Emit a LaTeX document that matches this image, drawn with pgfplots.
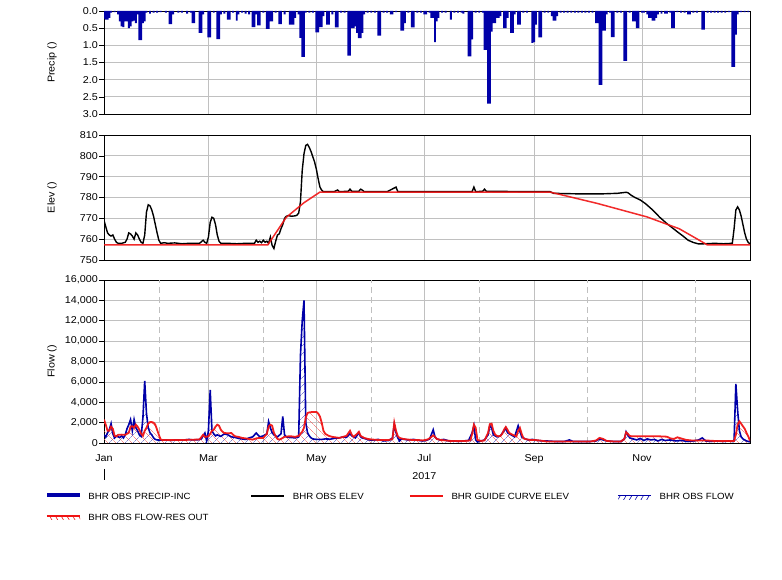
\documentclass[border=0pt]{standalone}
\usepackage{fontspec}
\setmainfont{Liberation Sans}[FakeStretch=1.08]
\usepackage{pgfplots}
\pgfplotsset{compat=1.18}
\usepackage{pgfplotstable}
\usetikzlibrary{patterns.meta}
\definecolor{obsblue}{RGB}{0,0,168}
\definecolor{gridgray}{RGB}{192,192,192}
\definecolor{obsred}{RGB}{240,20,20}

\pgfplotstableread{
x y
0 0.22
1 0.25
2 0.25
3 0.2
4 0.05
6 0.03
8 0.1
9 0.3
10 0.45
11 0.47
12 0.3
13 0.3
14 0.5
15 0.45
16 0.3
17 0.28
18 0.35
19 0.1
20 0.85
21 0.85
22 0.35
23 0.3
24 0.05
26 0.08
28 0.05
30 0.05
32 0.03
35 0.05
37 0.38
38 0.38
39 0.1
42 0.05
44 0.05
47 0.08
49 0.05
50 0.35
51 0.35
54 0.64
55 0.64
56 0.1
59 0.77
60 0.77
62 0.05
64 0.82
65 0.82
66 0.1
68 0.08
70 0.25
71 0.25
73 0.05
75 0.28
76 0.1
78 0.05
80 0.08
82 0.1
84 0.47
85 0.47
86 0.1
87 0.42
88 0.42
90 0.05
92 0.52
93 0.52
94 0.3
95 0.3
97 0.05
99 0.38
100 0.38
102 0.1
105 0.4
106 0.4
107 0.4
108 0.2
110 0.1
111 0.78
112 1.34
113 1.34
114 0.05
116 0.05
118 0.05
120 0.62
121 0.62
122 0.47
123 0.47
124 0.15
126 0.4
127 0.4
129 0.1
131 0.48
132 0.48
134 0.05
136 0.05
138 1.3
139 1.3
140 0.5
141 0.5
142 0.45
143 0.64
144 0.79
145 0.79
146 0.64
147 0.1
149 0.05
151 0.05
153 0.05
155 0.72
156 0.72
158 0.05
160 0.05
162 0.1
163 0.1
165 0.03
168 0.57
169 0.57
170 0.35
172 0.05
174 0.48
175 0.48
177 0.05
179 0.05
181 0.1
182 0.1
184 0.05
185 0.2
186 0.2
187 0.91
188 0.3
189 0.2
191 0.05
193 0.05
196 0.25
198 0.05
200 0.05
202 0.05
203 0.08
206 1.32
207 1.32
208 0.83
210 0.05
212 0.05
214 0.05
215 1.13
216 1.13
217 2.7
218 2.7
219 0.6
220 0.35
221 0.35
222 0.2
223 0.2
224 0.15
226 0.5
227 0.5
228 0.2
230 0.64
231 0.64
232 0.1
234 0.4
235 0.4
237 0.05
239 0.05
242 0.93
243 0.91
244 0.4
246 0.77
247 0.77
249 0.05
251 0.05
253 0.15
254 0.28
255 0.28
256 0.15
258 0.05
260 0.05
262 0.05
264 0.05
266 0.05
268 0.05
270 0.05
272 0.05
274 0.05
276 0.05
278 0.35
279 0.35
280 2.15
281 2.15
282 0.57
283 0.57
284 0.1
286 0.05
287 0.76
288 0.76
290 0.05
292 0.05
294 1.45
295 1.45
297 0.05
299 0.3
300 0.3
301 0.5
302 0.5
304 0.05
305 0.05
307 0.1
308 0.2
309 0.2
310 0.28
311 0.28
312 0.2
313 0.1
315 0.08
317 0.08
318 0.08
320 0.05
321 0.5
322 0.5
324 0.03
326 0.05
328 0.05
330 0.1
331 0.1
333 0.05
335 0.05
338 0.54
339 0.54
341 0.05
343 0.05
345 0.05
347 0.05
349 0.05
351 0.05
353 0.03
355 1.63
356 1.63
357 0.69
358 0.1
360 0.03
362 0.03
364 0.03
}\precip

\pgfplotstableread{
x y
0 769
1 766
2 763
3 762
4 761.5
5 762
6 760
7 758.5
8 758
10 758
12 758.5
13 760
14 763
15 762.5
16 761.5
17 760
18 763
19 762
20 760
21 758.5
22 758
23 762
24 773
25 776.5
26 776
27 774
28 771
29 767
30 763
31 759.5
32 758
34 758.3
36 758
40 758.2
44 757.8
48 758
52 758
54 758
56 759.5
57 758.5
58 758
59 761
60 768
61 770.5
62 770
63 767
64 762
65 759
66 758
70 758
75 757.8
80 758
85 758
86 759.5
87 758.5
88 759
89 758.3
90 759.5
91 758.5
92 759
93 758
94 761
95 757
96 755.5
97 759
98 762
99 762.5
100 765
101 767
102 770
103 771
104 771.3
106 771
108 771.2
109 771.5
110 772.5
111 778
112 793
113 801
114 805
115 805.5
116 804
117 802
118 799.5
119 797
120 793.5
121 789
122 785
123 783.5
124 782.8
130 782.8
132 783.6
133 782.8
138 783
139 784
140 783
144 783
145 784
146 783.5
147 782.8
160 782.8
165 785
166 782.8
170 782.8
175 782.8
200 782.8
208 782.8
209 785
210 782.8
214 783
215 784
216 783
240 782.8
252 782.8
254 782
270 781.7
280 781.7
290 782
295 782.5
296 782.3
298 781
300 780
303 778.8
306 777
310 774
314 770.5
318 767.5
321 765.5
324 763.5
327 761.6
330 759.5
333 758.4
336 757.7
340 757.8
345 758
350 757.8
355 758
356 765
357 774
358 775.5
359 774
360 771
361 767
362 763
363 760
364 758.4
365 757.8
}\elev

\pgfplotstableread{
x y
0 757.2
92.5 757.2
103 770.5
113 777.5
122 782.6
252 782.6
278.5 777.2
306.7 770.7
325 765
332 761.6
341 757.2
365 757.2
}\guide

\pgfplotstableread{
x y
0 800
1 600
2 1000
3 1300
4 1900
5 900
6 500
7 700
8 600
9 550
10 700
11 500
12 800
13 1400
14 1800
15 2300
16 1200
17 2300
18 1500
19 1200
20 800
21 650
22 2500
23 6100
24 2900
25 1500
26 1000
27 800
28 500
29 350
30 300
32 280
35 300
38 250
40 300
45 280
48 350
50 300
53 320
55 400
56 700
57 980
58 200
59 1200
60 5200
61 1200
62 900
63 700
64 800
66 650
68 900
70 800
72 600
74 550
76 450
78 400
80 350
82 500
84 600
86 980
88 600
90 700
92 900
93 2100
94 1500
95 1000
96 800
98 600
100 900
101 2600
102 800
103 600
105 550
108 500
110 600
111 8600
112 12000
113 14000
114 2000
115 1000
116 700
117 500
118 400
120 350
123 350
125 400
128 380
130 450
133 500
135 600
137 550
139 900
140 700
142 500
144 1000
145 600
146 500
148 400
150 300
152 280
155 350
158 200
161 250
163 500
164 1800
165 1000
166 500
167 200
168 400
170 350
172 300
175 350
178 250
180 200
182 250
184 400
186 1300
187 600
188 400
190 300
192 350
195 200
198 200
200 150
203 200
206 250
208 1000
209 1700
210 300
211 100
213 200
215 300
217 800
218 1700
219 1500
220 800
222 600
224 700
226 1200
227 1500
228 1000
230 800
232 600
234 1700
235 1200
236 600
238 400
240 300
242 350
245 250
248 200
250 200
255 150
260 150
263 300
265 150
270 150
275 150
278 200
280 400
282 300
284 200
288 150
292 150
294 400
295 1100
296 800
297 500
299 400
301 300
303 450
305 250
307 400
309 300
311 350
313 200
315 350
317 250
320 300
323 200
326 250
330 150
333 200
336 300
338 500
340 200
343 150
346 200
350 150
353 200
355 150
356 300
357 5800
358 3200
359 1200
360 600
361 400
362 300
363 200
364 150
365 150
}\flowobs

\pgfplotstableread{
x y
0 2300
1 1800
2 1200
3 1200
4 1600
5 1400
6 700
7 650
8 800
10 820
12 800
14 1000
15 1600
16 1650
17 1500
18 1800
19 1600
20 1300
21 900
22 700
23 1200
24 1500
25 1900
26 2050
27 2050
28 2000
29 1800
30 1300
31 800
32 350
33 300
36 300
40 300
45 300
50 320
54 350
56 800
57 600
59 650
60 900
61 1200
62 1300
63 1600
64 1800
65 1700
66 1300
67 1100
68 980
70 950
72 980
73 800
74 660
76 600
78 500
80 450
82 400
84 330
86 450
88 500
90 500
92 900
93 1600
94 1800
95 1700
96 1000
97 650
98 400
99 330
100 400
102 600
104 650
106 650
108 600
110 700
112 1100
113 1500
114 2500
115 2950
116 3000
118 3050
120 3050
121 2900
122 2600
123 2000
124 1200
125 900
127 700
129 600
131 550
133 500
135 600
137 700
139 1200
140 800
141 600
143 900
144 1100
145 700
147 500
149 400
151 350
153 320
155 300
158 300
161 300
163 400
164 2000
165 1200
166 660
167 500
169 400
171 350
174 300
177 300
180 250
183 350
185 600
186 750
187 600
188 400
190 300
193 250
196 200
200 200
204 200
207 250
208 900
209 1800
210 1500
211 300
213 200
215 250
217 1000
218 1850
219 1900
220 1200
221 820
222 700
223 650
224 700
225 900
226 1300
227 1570
228 1300
229 980
231 800
233 650
234 1200
235 1480
236 900
237 450
239 350
241 300
243 300
246 250
250 150
255 150
260 150
265 150
270 150
275 150
278 250
280 500
282 400
284 200
288 150
292 150
294 400
295 1050
296 900
297 700
298 660
303 660
308 660
313 660
318 620
320 450
322 400
324 560
326 450
329 300
332 250
336 250
340 250
345 200
350 200
354 200
356 200
357 800
358 1800
359 2130
360 1900
361 1640
362 1400
363 1000
364 660
365 200
}\flowout

\pgfplotsset{
  panel/.style={
    scale only axis, width=646bp, xmin=0, xmax=365,
    anchor=south west,
    xtick={0,59,120,181,243,304},
    xmajorgrids, ymajorgrids,
    grid style={gridgray, line width=0.7bp},
    axis line style={black, line width=0.8bp},
    tick pos=left,
    tick align=outside,
    major tick length=5bp,
    xtick style={draw=none},
    ytick style={black, line width=0.6bp},
    ticklabel style={font=\fontsize{10}{12}\selectfont},
    yticklabel style={inner sep=1bp},
    /pgf/number format/assume math mode=true,
    every axis y label/.style={at={([xshift=-52bp]rel axis cs:0,0.5)}, rotate=90, anchor=center, font=\fontsize{10}{12}\selectfont},
  }
}

\begin{document}
\begin{tikzpicture}[x=1bp,y=1bp]
\useasboundingbox (0,0) rectangle (782,580);

% Precip panel
\begin{axis}[panel, at={(104bp,466bp)}, height=103bp,
  ymin=0, ymax=3, y dir=reverse, ytick={0,0.5,1,1.5,2,2.5,3},
  yticklabel style={/pgf/number format/.cd, fixed, zerofill, precision=1},
  xticklabels={}, ylabel={Precip ()}]
\addplot[ybar, bar width=1.1, bar shift=0pt, draw=none, fill=obsblue] table {\precip};
\end{axis}

% Elev panel
\begin{axis}[panel, at={(104bp,320bp)}, height=125bp,
  ymin=750, ymax=810, ytick={750,760,770,780,790,800,810},
  xticklabels={}, ylabel={Elev ()}]
\addplot[black, line width=1.4bp] table {\elev};
\addplot[obsred, line width=1.5bp, opacity=0.9] table {\guide};
\end{axis}

% Flow panel
\begin{axis}[panel, name=flow, at={(104bp,137bp)}, height=163bp,
  ymin=0, ymax=16000, ytick={0,2000,4000,6000,8000,10000,12000,14000,16000},
  scaled y ticks=false,
  yticklabel style={/pgf/number format/.cd, 1000 sep={,}},
  xticklabels={Jan,Mar,May,{Jul\\2017},Sep,Nov},
  xticklabel style={align=center, anchor=north, yshift=-3bp, font=\fontsize{10}{17.5}\selectfont},
  extra x ticks={31,90,151,212,273,334}, extra x tick labels={},
  extra x tick style={grid=major, major tick length=0pt, major grid style={gridgray, line width=0.7bp, dash pattern=on 6bp off 4bp}},
  ylabel={Flow ()},
  legend columns=4,
  legend cell align=left,
  legend style={at={([xshift=-58bp,yshift=-50bp]rel axis cs:0,0)}, anchor=north west,
    draw=none, fill=none, inner sep=0pt,
    font=\fontsize{9}{10}\selectfont,
    row sep=14bp,
    /tikz/every odd column/.append style={column sep=7.5bp},
    nodes={inner sep=0pt, text height=6.5bp, text depth=0bp}},
  ]
\addplot[draw=none, pattern={Lines[angle=45,distance=6bp,line width=0.45bp]}, pattern color=obsblue!75, forget plot] table {\flowobs} \closedcycle;
\addplot[draw=none, pattern={Lines[angle=-45,distance=6bp,line width=0.45bp]}, pattern color=obsred!75, forget plot] table {\flowout} \closedcycle;
\addplot[obsblue, line width=1.6bp, forget plot] table {\flowobs};
\addplot[obsred, line width=1.8bp, opacity=0.95, forget plot] table {\flowout};

\addlegendimage{draw=none, legend image code/.code={\fill[obsblue] (0bp,-0.5bp) rectangle (33bp,3.5bp);}}
\addlegendentry{\makebox[162bp][l]{BHR OBS PRECIP-INC}}
\addlegendimage{draw=none, legend image code/.code={\draw[black, line width=2bp] (0bp,1bp) -- (33bp,1bp);}}
\addlegendentry{\makebox[116bp][l]{BHR OBS ELEV}}
\addlegendimage{draw=none, legend image code/.code={\draw[obsred, line width=2.2bp] (0bp,1bp) -- (33bp,1bp);}}
\addlegendentry{\makebox[166bp][l]{BHR GUIDE CURVE ELEV}}
\addlegendimage{draw=none, legend image code/.code={\path[draw=none, pattern={Lines[angle=60,distance=5bp,line width=0.6bp]}, pattern color=obsblue] (0bp,-2.5bp) rectangle (33bp,0.5bp); \draw[obsblue, line width=1.6bp] (0bp,1bp) -- (33bp,1bp);}}
\addlegendentry{BHR OBS FLOW}
\addlegendimage{draw=none, legend image code/.code={\path[draw=none, pattern={Lines[angle=120,distance=5bp,line width=0.6bp]}, pattern color=obsred] (0bp,-2.5bp) rectangle (33bp,0.5bp); \draw[obsred, line width=1.6bp] (0bp,1bp) -- (33bp,1bp);}}
\addlegendentry{\makebox[162bp][l]{BHR OBS FLOW-RES OUT}}
\end{axis}
\draw[black, line width=0.8bp] ([yshift=-26bp]flow.south west) -- ([yshift=-37bp]flow.south west);
\end{tikzpicture}
\end{document}
